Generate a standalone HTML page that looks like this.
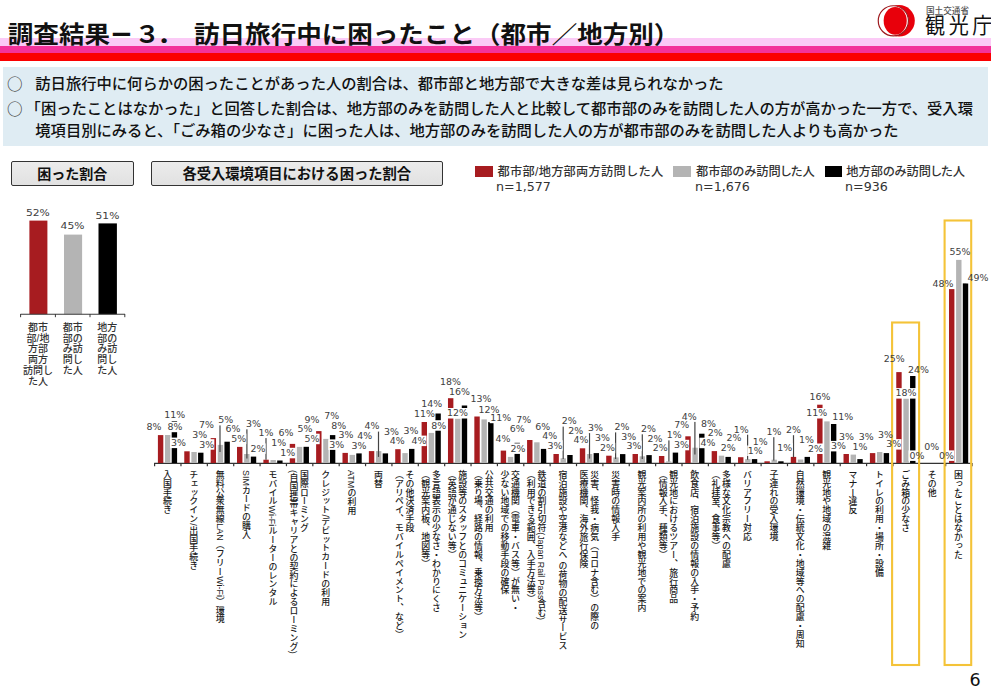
<!DOCTYPE html>
<html lang="ja"><head><meta charset="utf-8">
<style>
*{margin:0;padding:0;box-sizing:border-box}
html,body{width:991px;height:700px;overflow:hidden;background:#fff}
body{position:relative;font-family:"Liberation Sans", "Noto Sans CJK JP", sans-serif;color:#000}
.abs{position:absolute;white-space:nowrap}
.title{position:absolute;z-index:2;top:23.4px;transform:scaleY(0.935);transform-origin:0 0;font-size:25.55px;font-weight:bold;line-height:1;white-space:nowrap;color:#111}
.band1{position:absolute;left:0;top:38.2px;width:991px;height:7.8px;background:#fbcaf6}
.band2{position:absolute;left:0;top:46px;width:991px;height:6.8px;background:#f3329a}
.band3{position:absolute;left:0;top:52.8px;width:991px;height:7.9px;background:#fb0000}
.box{position:absolute;left:3.2px;top:67.1px;width:984.6px;height:78.7px;background:#dfecf3}
.bl{position:absolute;left:35.3px;font-size:15.3px;line-height:1;white-space:nowrap;color:#111;font-weight:500}
.circ{position:absolute;left:7.1px;font-size:15.6px;line-height:1;color:#3a3a3a;font-weight:500;font-family:"Noto Sans CJK JP",sans-serif}
.hdr{position:absolute;top:161.3px;height:24.3px;border:1.5px solid #333;border-radius:2px;background:linear-gradient(#ececec,#e1e1e1);font-size:14px;font-weight:bold;text-align:center;line-height:25px;color:#111}
.chart{position:absolute;left:0;top:0}
.chart text{font-family:"DejaVu Sans", "Liberation Sans", "Noto Sans CJK JP", sans-serif;font-size:8.2px;fill:#404040}
.cat{position:absolute;top:470px;writing-mode:vertical-rl;text-orientation:mixed;font-size:8.9px;line-height:10.6px;color:#1a1a1a;font-weight:500;transform:translateX(-50%);white-space:nowrap}
.mcat{position:absolute;top:323px;font-size:10px;line-height:10.7px;color:#333;font-weight:500;text-align:center;width:34px;transform:translateX(-50%)}
.lg{position:absolute;font-size:12.2px;line-height:1;color:#333;white-space:nowrap;font-weight:500}
.lgn{position:absolute;font-family:"DejaVu Sans", "Liberation Sans", "Noto Sans CJK JP", sans-serif;font-size:12.3px;transform:scaleX(1.03);transform-origin:0 0;line-height:1;color:#333;white-space:nowrap}
.sq{position:absolute;top:166.3px;width:17.3px;height:11px}
.ybox{position:absolute;border:2px solid #f3bf2a}
</style></head><body>
<div class="title" style="left:7.8px">調査結果</div>
<div class="title" style="left:111.7px;font-family:'Liberation Sans',sans-serif;font-size:34.9px;top:16.3px">–</div>
<div class="title" style="left:134.4px">３</div>
<div class="title" style="left:157px">．</div>
<div class="title" style="left:194px">訪日旅行中に困ったこと（都市／地方別）</div>

<svg class="abs" style="left:870px;top:0" width="50" height="42" viewBox="870 0 50 42">
 <circle cx="899.05" cy="20.85" r="15.75" fill="#e8000b"/>
 <circle cx="893.35" cy="20.85" r="15.2" fill="#fff"/>
 <circle cx="893.35" cy="20.85" r="15.1" fill="none" stroke="#9e1a1e" stroke-width="1.2"/>
 <ellipse cx="895.2" cy="20.85" rx="11.55" ry="13.95" fill="#e8000b"/>
</svg>
<div class="abs" style="left:926px;top:6.8px;font-size:8.6px;line-height:1;color:#555;font-weight:500">国土交通省</div>
<div class="abs" style="left:925.2px;top:15.4px;font-size:21.8px;line-height:1;letter-spacing:3.9px;color:#111;transform:scaleX(0.92);transform-origin:0 0">観光庁</div>

<div class="band1"></div><div class="band2"></div><div class="band3"></div>

<div class="box"></div>
<div class="circ" style="top:76px">○</div>
<div class="circ" style="top:100.6px">○</div>
<div class="bl" style="top:76px">訪日旅行中に何らかの困ったことがあった人の割合は、都市部と地方部で大きな差は見られなかった</div>
<div class="bl" style="top:100.5px;left:25.6px">「困ったことはなかった」と回答した割合は、地方部のみを訪問した人と比較して都市部のみを訪問した人の方が高かった一方で、受入環</div>
<div class="bl" style="top:122.5px">境項目別にみると、「ごみ箱の少なさ」に困った人は、地方部のみを訪問した人の方が都市部のみを訪問した人よりも高かった</div>

<div class="hdr" style="left:10.5px;width:123.5px">困った割合</div>
<div class="hdr" style="left:150.6px;width:292.4px;font-size:14.3px">各受入環境項目における困った割合</div>

<div class="sq" style="left:475.3px;background:#a71c20"></div>
<div class="sq" style="left:673.3px;background:#b4b4b4"></div>
<div class="sq" style="left:824.5px;background:#000"></div>
<div class="lg" style="left:497.5px;top:166px;letter-spacing:0.3px">都市部/地方部両方訪問した人</div>
<div class="lg" style="left:696px;top:166px;font-feature-settings:'palt'">都市部のみ訪問した人</div>
<div class="lg" style="left:846.3px;top:166px;font-feature-settings:'palt'">地方部のみ訪問した人</div>
<div class="lgn" style="left:496px;top:181px">n=1,577</div>
<div class="lgn" style="left:695px;top:181px">n=1,676</div>
<div class="lgn" style="left:845.3px;top:181px">n=936</div>

<svg class="abs" style="left:0;top:0" width="140" height="330" viewBox="0 0 140 330">
 <rect x="29.4" y="220.6" width="18" height="93.6" fill="#a71c20"/>
 <rect x="64" y="234.6" width="18.1" height="79.6" fill="#b4b4b4"/>
 <rect x="98.5" y="223.4" width="18.4" height="90.8" fill="#000"/>
 <line x1="20.5" y1="314.3" x2="125" y2="314.3" stroke="#3a3a3a" stroke-width="1.1"/>
 <line x1="20.6" y1="314" x2="20.6" y2="317.2" stroke="#3a3a3a" stroke-width="1"/>
 <line x1="55.4" y1="314" x2="55.4" y2="317.2" stroke="#3a3a3a" stroke-width="1"/>
 <line x1="90" y1="314" x2="90" y2="317.2" stroke="#3a3a3a" stroke-width="1"/>
 <line x1="124.8" y1="314" x2="124.8" y2="317.2" stroke="#3a3a3a" stroke-width="1"/>
 <g font-family='"DejaVu Sans", "Liberation Sans", "Noto Sans CJK JP", sans-serif' font-size="9.6" fill="#404040">
  <text transform="translate(25.9 215.8) scale(1.12 1)">52%</text>
  <text transform="translate(60.6 229.3) scale(1.12 1)">45%</text>
  <text transform="translate(95.5 218.9) scale(1.12 1)">51%</text>
 </g>
</svg>
<div class="mcat" style="left:38px">都市<br>部/地<br>方部<br>両方<br>訪問し<br>た人</div>
<div class="mcat" style="left:72.7px">都市<br>部の<br>み訪<br>問し<br>た人</div>
<div class="mcat" style="left:107.3px">地方<br>部の<br>み訪<br>問し<br>た人</div>

<svg class="chart" width="991" height="700" viewBox="0 0 991 700"><line x1="154.2" y1="463.4" x2="970.6" y2="463.4" stroke="#333" stroke-width="1.3"/><line x1="154.6" y1="463" x2="154.6" y2="466.2" stroke="#333" stroke-width="1.2"/><line x1="180.97" y1="463" x2="180.97" y2="466.2" stroke="#333" stroke-width="1.2"/><line x1="207.34" y1="463" x2="207.34" y2="466.2" stroke="#333" stroke-width="1.2"/><line x1="233.71" y1="463" x2="233.71" y2="466.2" stroke="#333" stroke-width="1.2"/><line x1="260.08" y1="463" x2="260.08" y2="466.2" stroke="#333" stroke-width="1.2"/><line x1="286.45" y1="463" x2="286.45" y2="466.2" stroke="#333" stroke-width="1.2"/><line x1="312.82" y1="463" x2="312.82" y2="466.2" stroke="#333" stroke-width="1.2"/><line x1="339.19" y1="463" x2="339.19" y2="466.2" stroke="#333" stroke-width="1.2"/><line x1="365.56" y1="463" x2="365.56" y2="466.2" stroke="#333" stroke-width="1.2"/><line x1="391.93" y1="463" x2="391.93" y2="466.2" stroke="#333" stroke-width="1.2"/><line x1="418.3" y1="463" x2="418.3" y2="466.2" stroke="#333" stroke-width="1.2"/><line x1="444.67" y1="463" x2="444.67" y2="466.2" stroke="#333" stroke-width="1.2"/><line x1="471.04" y1="463" x2="471.04" y2="466.2" stroke="#333" stroke-width="1.2"/><line x1="497.41" y1="463" x2="497.41" y2="466.2" stroke="#333" stroke-width="1.2"/><line x1="523.78" y1="463" x2="523.78" y2="466.2" stroke="#333" stroke-width="1.2"/><line x1="550.15" y1="463" x2="550.15" y2="466.2" stroke="#333" stroke-width="1.2"/><line x1="576.52" y1="463" x2="576.52" y2="466.2" stroke="#333" stroke-width="1.2"/><line x1="602.89" y1="463" x2="602.89" y2="466.2" stroke="#333" stroke-width="1.2"/><line x1="629.26" y1="463" x2="629.26" y2="466.2" stroke="#333" stroke-width="1.2"/><line x1="655.63" y1="463" x2="655.63" y2="466.2" stroke="#333" stroke-width="1.2"/><line x1="682" y1="463" x2="682" y2="466.2" stroke="#333" stroke-width="1.2"/><line x1="708.37" y1="463" x2="708.37" y2="466.2" stroke="#333" stroke-width="1.2"/><line x1="734.74" y1="463" x2="734.74" y2="466.2" stroke="#333" stroke-width="1.2"/><line x1="761.11" y1="463" x2="761.11" y2="466.2" stroke="#333" stroke-width="1.2"/><line x1="787.48" y1="463" x2="787.48" y2="466.2" stroke="#333" stroke-width="1.2"/><line x1="813.85" y1="463" x2="813.85" y2="466.2" stroke="#333" stroke-width="1.2"/><line x1="840.22" y1="463" x2="840.22" y2="466.2" stroke="#333" stroke-width="1.2"/><line x1="866.59" y1="463" x2="866.59" y2="466.2" stroke="#333" stroke-width="1.2"/><line x1="892.96" y1="463" x2="892.96" y2="466.2" stroke="#333" stroke-width="1.2"/><line x1="919.33" y1="463" x2="919.33" y2="466.2" stroke="#333" stroke-width="1.2"/><line x1="945.7" y1="463" x2="945.7" y2="466.2" stroke="#333" stroke-width="1.2"/><line x1="972.07" y1="463" x2="972.07" y2="466.2" stroke="#333" stroke-width="1.2"/><rect x="157.9" y="435.1" width="5.4" height="27.9" fill="#a71c20"/><rect x="165" y="435" width="5.4" height="28" fill="#b4b4b4"/><rect x="171.7" y="421.1" width="5.4" height="41.9" fill="#000000"/><rect x="184.27" y="451.3" width="5.4" height="11.7" fill="#a71c20"/><rect x="191.37" y="452" width="5.4" height="11" fill="#b4b4b4"/><rect x="198.07" y="452.7" width="5.4" height="10.3" fill="#000000"/><rect x="210.64" y="438.1" width="5.4" height="24.9" fill="#a71c20"/><rect x="217.74" y="444.9" width="5.4" height="18.1" fill="#b4b4b4"/><rect x="224.44" y="441.7" width="5.4" height="21.3" fill="#000000"/><rect x="237.01" y="446.9" width="5.4" height="16.1" fill="#a71c20"/><rect x="244.11" y="454" width="5.4" height="9" fill="#b4b4b4"/><rect x="250.81" y="456.6" width="5.4" height="6.4" fill="#000000"/><rect x="263.38" y="459.7" width="5.4" height="3.3" fill="#a71c20"/><rect x="270.48" y="460" width="5.4" height="3" fill="#b4b4b4"/><rect x="277.18" y="460.5" width="5.4" height="2.5" fill="#000000"/><rect x="289.75" y="443.9" width="5.4" height="19.1" fill="#a71c20"/><rect x="296.85" y="446.9" width="5.4" height="16.1" fill="#b4b4b4"/><rect x="303.55" y="446.8" width="5.4" height="16.2" fill="#000000"/><rect x="316.12" y="431.1" width="5.4" height="31.9" fill="#a71c20"/><rect x="323.22" y="438.9" width="5.4" height="24.1" fill="#b4b4b4"/><rect x="329.92" y="435.1" width="5.4" height="27.9" fill="#000000"/><rect x="342.49" y="452.9" width="5.4" height="10.1" fill="#a71c20"/><rect x="349.59" y="454.9" width="5.4" height="8.1" fill="#b4b4b4"/><rect x="356.29" y="453.4" width="5.4" height="9.6" fill="#000000"/><rect x="368.86" y="451.1" width="5.4" height="11.9" fill="#a71c20"/><rect x="375.96" y="451.1" width="5.4" height="11.9" fill="#b4b4b4"/><rect x="382.66" y="453.4" width="5.4" height="9.6" fill="#000000"/><rect x="395.23" y="449.2" width="5.4" height="13.8" fill="#a71c20"/><rect x="402.33" y="453.1" width="5.4" height="9.9" fill="#b4b4b4"/><rect x="409.03" y="448.9" width="5.4" height="14.1" fill="#000000"/><rect x="421.6" y="422" width="5.4" height="41" fill="#a71c20"/><rect x="428.7" y="432.9" width="5.4" height="30.1" fill="#b4b4b4"/><rect x="435.4" y="413.5" width="5.4" height="49.5" fill="#000000"/><rect x="447.97" y="398.2" width="5.4" height="64.8" fill="#a71c20"/><rect x="455.07" y="418.6" width="5.4" height="44.4" fill="#b4b4b4"/><rect x="461.77" y="405.5" width="5.4" height="57.5" fill="#000000"/><rect x="474.34" y="416.5" width="5.4" height="46.5" fill="#a71c20"/><rect x="481.44" y="419.4" width="5.4" height="43.6" fill="#b4b4b4"/><rect x="488.14" y="422.1" width="5.4" height="40.9" fill="#000000"/><rect x="500.71" y="450.6" width="5.4" height="12.4" fill="#a71c20"/><rect x="507.81" y="456.9" width="5.4" height="6.1" fill="#b4b4b4"/><rect x="514.51" y="442.8" width="5.4" height="20.2" fill="#000000"/><rect x="527.08" y="440" width="5.4" height="23" fill="#a71c20"/><rect x="534.18" y="442.3" width="5.4" height="20.7" fill="#b4b4b4"/><rect x="540.88" y="448.9" width="5.4" height="14.1" fill="#000000"/><rect x="553.45" y="454" width="5.4" height="9" fill="#a71c20"/><rect x="560.55" y="458.3" width="5.4" height="4.7" fill="#b4b4b4"/><rect x="567.25" y="455" width="5.4" height="8" fill="#000000"/><rect x="579.82" y="448.3" width="5.4" height="14.7" fill="#a71c20"/><rect x="586.92" y="454" width="5.4" height="9" fill="#b4b4b4"/><rect x="593.62" y="453.1" width="5.4" height="9.9" fill="#000000"/><rect x="606.19" y="455.7" width="5.4" height="7.3" fill="#a71c20"/><rect x="613.29" y="457.4" width="5.4" height="5.6" fill="#b4b4b4"/><rect x="619.99" y="454.1" width="5.4" height="8.9" fill="#000000"/><rect x="632.56" y="454" width="5.4" height="9" fill="#a71c20"/><rect x="639.66" y="456.3" width="5.4" height="6.7" fill="#b4b4b4"/><rect x="646.36" y="455.1" width="5.4" height="7.9" fill="#000000"/><rect x="658.93" y="456" width="5.4" height="7" fill="#a71c20"/><rect x="666.03" y="461.4" width="5.4" height="1.6" fill="#b4b4b4"/><rect x="672.73" y="452.6" width="5.4" height="10.4" fill="#000000"/><rect x="685.3" y="436.3" width="5.4" height="26.7" fill="#a71c20"/><rect x="692.4" y="447.7" width="5.4" height="15.3" fill="#b4b4b4"/><rect x="699.1" y="433.7" width="5.4" height="29.3" fill="#000000"/><rect x="711.67" y="451.1" width="5.4" height="11.9" fill="#a71c20"/><rect x="718.77" y="455.7" width="5.4" height="7.3" fill="#b4b4b4"/><rect x="725.47" y="456.9" width="5.4" height="6.1" fill="#000000"/><rect x="738.04" y="457.2" width="5.4" height="5.8" fill="#a71c20"/><rect x="745.14" y="459.1" width="5.4" height="3.9" fill="#b4b4b4"/><rect x="751.84" y="459.1" width="5.4" height="3.9" fill="#000000"/><rect x="764.41" y="461.3" width="5.4" height="1.7" fill="#a71c20"/><rect x="771.51" y="459.7" width="5.4" height="3.3" fill="#b4b4b4"/><rect x="778.21" y="461.3" width="5.4" height="1.7" fill="#000000"/><rect x="790.78" y="456.9" width="5.4" height="6.1" fill="#a71c20"/><rect x="797.88" y="459.5" width="5.4" height="3.5" fill="#b4b4b4"/><rect x="804.58" y="456.9" width="5.4" height="6.1" fill="#000000"/><rect x="817.15" y="404.7" width="5.4" height="58.3" fill="#a71c20"/><rect x="824.25" y="421.4" width="5.4" height="41.6" fill="#b4b4b4"/><rect x="830.95" y="424" width="5.4" height="39" fill="#000000"/><rect x="843.52" y="454" width="5.4" height="9" fill="#a71c20"/><rect x="850.62" y="454.6" width="5.4" height="8.4" fill="#b4b4b4"/><rect x="857.32" y="459.1" width="5.4" height="3.9" fill="#000000"/><rect x="869.89" y="453.1" width="5.4" height="9.9" fill="#a71c20"/><rect x="876.99" y="452" width="5.4" height="11" fill="#b4b4b4"/><rect x="883.69" y="453.1" width="5.4" height="9.9" fill="#000000"/><rect x="896.26" y="372.1" width="5.4" height="90.9" fill="#a71c20"/><rect x="903.36" y="398.4" width="5.4" height="64.6" fill="#b4b4b4"/><rect x="910.06" y="376" width="5.4" height="87" fill="#000000"/><rect x="949" y="289.1" width="5.4" height="173.9" fill="#a71c20"/><rect x="956.1" y="259.9" width="5.4" height="203.1" fill="#b4b4b4"/><rect x="962.8" y="283.4" width="5.4" height="179.6" fill="#000000"/><line x1="220" y1="424" x2="220" y2="452" stroke="#444" stroke-width="1.2"/><line x1="246.9" y1="428.3" x2="246.9" y2="458.6" stroke="#444" stroke-width="1.2"/><line x1="266" y1="438" x2="266" y2="459.7" stroke="#444" stroke-width="1.2"/><line x1="378.5" y1="430.6" x2="378.5" y2="456.9" stroke="#444" stroke-width="1.2"/><line x1="563.2" y1="426.3" x2="563.2" y2="459.1" stroke="#444" stroke-width="1.2"/><line x1="589.5" y1="432.9" x2="589.5" y2="458.6" stroke="#444" stroke-width="1.2"/><line x1="615.6" y1="431.7" x2="615.6" y2="459.1" stroke="#444" stroke-width="1.2"/><line x1="642.3" y1="433.4" x2="642.3" y2="459.1" stroke="#444" stroke-width="1.2"/><line x1="668.9" y1="440.3" x2="668.9" y2="461.4" stroke="#444" stroke-width="1.2"/><line x1="694.9" y1="420.9" x2="694.9" y2="454.6" stroke="#444" stroke-width="1.2"/><line x1="747.6" y1="433.2" x2="747.6" y2="459.7" stroke="#444" stroke-width="1.2"/><line x1="773.8" y1="436.6" x2="773.8" y2="460.4" stroke="#444" stroke-width="1.2"/><line x1="793.5" y1="434.7" x2="793.5" y2="457.2" stroke="#444" stroke-width="1.2"/><rect x="145.4" y="421.7" width="16.16" height="10.5" fill="#fff"/><rect x="163.6" y="409.4" width="21.68" height="10.5" fill="#fff"/><rect x="166.4" y="421.7" width="16.16" height="10.5" fill="#fff"/><rect x="170.1" y="437.6" width="16.16" height="10.5" fill="#fff"/><rect x="191.2" y="429.7" width="16.16" height="10.5" fill="#fff"/><rect x="197.9" y="419.7" width="16.16" height="10.5" fill="#fff"/><rect x="198.2" y="439.2" width="16.16" height="10.5" fill="#fff"/><rect x="217.2" y="414.9" width="16.16" height="10.5" fill="#fff"/><rect x="224.4" y="423.9" width="16.16" height="10.5" fill="#fff"/><rect x="230.2" y="433.6" width="16.16" height="10.5" fill="#fff"/><rect x="245" y="418.8" width="16.16" height="10.5" fill="#fff"/><rect x="249.5" y="443.4" width="16.16" height="10.5" fill="#fff"/><rect x="257.9" y="427.6" width="16.16" height="10.5" fill="#fff"/><rect x="270.7" y="437.5" width="16.16" height="10.5" fill="#fff"/><rect x="277.5" y="427.6" width="16.16" height="10.5" fill="#fff"/><rect x="279.6" y="447.8" width="16.16" height="10.5" fill="#fff"/><rect x="303.5" y="414.8" width="16.16" height="10.5" fill="#fff"/><rect x="296.6" y="423.7" width="16.16" height="10.5" fill="#fff"/><rect x="303.5" y="433.7" width="16.16" height="10.5" fill="#fff"/><rect x="323.3" y="410.8" width="16.16" height="10.5" fill="#fff"/><rect x="330.2" y="420.6" width="16.16" height="10.5" fill="#fff"/><rect x="328.3" y="439.4" width="16.16" height="10.5" fill="#fff"/><rect x="337.4" y="429.5" width="16.16" height="10.5" fill="#fff"/><rect x="350.5" y="440.9" width="16.16" height="10.5" fill="#fff"/><rect x="356.3" y="430.6" width="16.16" height="10.5" fill="#fff"/><rect x="363.5" y="421.1" width="16.16" height="10.5" fill="#fff"/><rect x="383" y="426.5" width="16.16" height="10.5" fill="#fff"/><rect x="388.7" y="435.6" width="16.16" height="10.5" fill="#fff"/><rect x="402.4" y="426" width="16.16" height="10.5" fill="#fff"/><rect x="420.7" y="399.1" width="21.68" height="10.5" fill="#fff"/><rect x="413.5" y="408.9" width="21.68" height="10.5" fill="#fff"/><rect x="410.4" y="435.6" width="16.16" height="10.5" fill="#fff"/><rect x="430.2" y="420.2" width="16.16" height="10.5" fill="#fff"/><rect x="439.4" y="376.4" width="21.68" height="10.5" fill="#fff"/><rect x="448.4" y="386.3" width="21.68" height="10.5" fill="#fff"/><rect x="446.3" y="408" width="21.68" height="10.5" fill="#fff"/><rect x="469.8" y="393.4" width="21.68" height="10.5" fill="#fff"/><rect x="478" y="404.6" width="21.68" height="10.5" fill="#fff"/><rect x="489.7" y="412.7" width="21.68" height="10.5" fill="#fff"/><rect x="494.4" y="433.7" width="16.16" height="10.5" fill="#fff"/><rect x="508.7" y="424" width="16.16" height="10.5" fill="#fff"/><rect x="509.5" y="443.4" width="16.16" height="10.5" fill="#fff"/><rect x="515.3" y="414.8" width="16.16" height="10.5" fill="#fff"/><rect x="534.3" y="421.9" width="16.16" height="10.5" fill="#fff"/><rect x="541.2" y="430.6" width="16.16" height="10.5" fill="#fff"/><rect x="546.5" y="440.2" width="16.16" height="10.5" fill="#fff"/><rect x="560.8" y="416" width="16.16" height="10.5" fill="#fff"/><rect x="567.3" y="425.7" width="16.16" height="10.5" fill="#fff"/><rect x="572.6" y="434.5" width="16.16" height="10.5" fill="#fff"/><rect x="587.1" y="422.6" width="16.16" height="10.5" fill="#fff"/><rect x="594" y="432.2" width="16.16" height="10.5" fill="#fff"/><rect x="599.1" y="442.8" width="16.16" height="10.5" fill="#fff"/><rect x="613.4" y="421.9" width="16.16" height="10.5" fill="#fff"/><rect x="620.2" y="431.9" width="16.16" height="10.5" fill="#fff"/><rect x="625.5" y="440.6" width="16.16" height="10.5" fill="#fff"/><rect x="639.9" y="423.8" width="16.16" height="10.5" fill="#fff"/><rect x="646.4" y="433.4" width="16.16" height="10.5" fill="#fff"/><rect x="651.8" y="442.8" width="16.16" height="10.5" fill="#fff"/><rect x="666.2" y="429.7" width="16.16" height="10.5" fill="#fff"/><rect x="680.7" y="411.4" width="16.16" height="10.5" fill="#fff"/><rect x="673.3" y="420" width="16.16" height="10.5" fill="#fff"/><rect x="673" y="439.8" width="16.16" height="10.5" fill="#fff"/><rect x="700" y="418.8" width="16.16" height="10.5" fill="#fff"/><rect x="699.4" y="437.7" width="16.16" height="10.5" fill="#fff"/><rect x="706.8" y="427.4" width="16.16" height="10.5" fill="#fff"/><rect x="719.7" y="442.5" width="16.16" height="10.5" fill="#fff"/><rect x="725.5" y="432.6" width="16.16" height="10.5" fill="#fff"/><rect x="733.1" y="424.2" width="16.16" height="10.5" fill="#fff"/><rect x="747.2" y="445.5" width="16.16" height="10.5" fill="#fff"/><rect x="752.1" y="436.5" width="16.16" height="10.5" fill="#fff"/><rect x="765.8" y="426.7" width="16.16" height="10.5" fill="#fff"/><rect x="776.7" y="443.1" width="16.16" height="10.5" fill="#fff"/><rect x="785.1" y="424.7" width="16.16" height="10.5" fill="#fff"/><rect x="798.3" y="434.7" width="16.16" height="10.5" fill="#fff"/><rect x="808.9" y="391.2" width="21.68" height="10.5" fill="#fff"/><rect x="805.6" y="408" width="21.68" height="10.5" fill="#fff"/><rect x="806.9" y="443.5" width="16.16" height="10.5" fill="#fff"/><rect x="831.7" y="411.3" width="21.68" height="10.5" fill="#fff"/><rect x="830.1" y="440.9" width="16.16" height="10.5" fill="#fff"/><rect x="838.1" y="431.9" width="16.16" height="10.5" fill="#fff"/><rect x="857.8" y="431.9" width="16.16" height="10.5" fill="#fff"/><rect x="852" y="441.8" width="16.16" height="10.5" fill="#fff"/><rect x="877.1" y="429.8" width="16.16" height="10.5" fill="#fff"/><rect x="885.3" y="439.1" width="16.16" height="10.5" fill="#fff"/><rect x="882.8" y="353.7" width="21.68" height="10.5" fill="#fff"/><rect x="907.1" y="364.2" width="21.68" height="10.5" fill="#fff"/><rect x="894.9" y="388.1" width="21.68" height="10.5" fill="#fff"/><rect x="908.5" y="450.4" width="16.16" height="10.5" fill="#fff"/><rect x="923.3" y="441.7" width="16.16" height="10.5" fill="#fff"/><rect x="938.1" y="450.4" width="16.16" height="10.5" fill="#fff"/><rect x="931.6" y="278.3" width="21.68" height="10.5" fill="#fff"/><rect x="948.4" y="247" width="21.68" height="10.5" fill="#fff"/><rect x="966.4" y="272.7" width="21.68" height="10.5" fill="#fff"/><rect x="892.1" y="322.5" width="27" height="342.5" fill="none" stroke="#f4c338" stroke-width="2.1"/><rect x="944.6" y="220.5" width="26.6" height="444.5" fill="none" stroke="#f4c338" stroke-width="2.1"/><text transform="translate(146.4 430) scale(1.15 1)">8%</text><text transform="translate(164.2 417.7) scale(1.15 1)">11%</text><text transform="translate(167.4 430) scale(1.15 1)">8%</text><text transform="translate(171.1 445.9) scale(1.15 1)">3%</text><text transform="translate(192.2 438) scale(1.15 1)">3%</text><text transform="translate(198.9 428) scale(1.15 1)">7%</text><text transform="translate(199.2 447.5) scale(1.15 1)">3%</text><text transform="translate(218.2 423.2) scale(1.15 1)">5%</text><text transform="translate(225.4 432.2) scale(1.15 1)">6%</text><text transform="translate(231.2 441.9) scale(1.15 1)">5%</text><text transform="translate(246 427.1) scale(1.15 1)">3%</text><text transform="translate(250.5 451.7) scale(1.15 1)">2%</text><text transform="translate(258.5 435.9) scale(1.15 1)">1%</text><text transform="translate(271.3 445.8) scale(1.15 1)">1%</text><text transform="translate(278.5 435.9) scale(1.15 1)">6%</text><text transform="translate(280.2 456.1) scale(1.15 1)">1%</text><text transform="translate(304.5 423.1) scale(1.15 1)">9%</text><text transform="translate(297.6 432) scale(1.15 1)">5%</text><text transform="translate(304.5 442) scale(1.15 1)">5%</text><text transform="translate(324.3 419.1) scale(1.15 1)">7%</text><text transform="translate(331.2 428.9) scale(1.15 1)">8%</text><text transform="translate(329.3 447.7) scale(1.15 1)">3%</text><text transform="translate(338.4 437.8) scale(1.15 1)">3%</text><text transform="translate(351.5 449.2) scale(1.15 1)">3%</text><text transform="translate(357.3 438.9) scale(1.15 1)">4%</text><text transform="translate(364.5 429.4) scale(1.15 1)">4%</text><text transform="translate(384 434.8) scale(1.15 1)">3%</text><text transform="translate(389.7 443.9) scale(1.15 1)">4%</text><text transform="translate(403.4 434.3) scale(1.15 1)">3%</text><text transform="translate(421.3 407.4) scale(1.15 1)">14%</text><text transform="translate(414.1 417.2) scale(1.15 1)">11%</text><text transform="translate(411.4 443.9) scale(1.15 1)">4%</text><text transform="translate(431.2 428.5) scale(1.15 1)">8%</text><text transform="translate(440 384.7) scale(1.15 1)">18%</text><text transform="translate(449 394.6) scale(1.15 1)">16%</text><text transform="translate(446.9 416.3) scale(1.15 1)">12%</text><text transform="translate(470.4 401.7) scale(1.15 1)">13%</text><text transform="translate(478.6 412.9) scale(1.15 1)">12%</text><text transform="translate(490.3 421) scale(1.15 1)">11%</text><text transform="translate(495.4 442) scale(1.15 1)">4%</text><text transform="translate(509.7 432.3) scale(1.15 1)">6%</text><text transform="translate(510.5 451.7) scale(1.15 1)">2%</text><text transform="translate(516.3 423.1) scale(1.15 1)">7%</text><text transform="translate(535.3 430.2) scale(1.15 1)">6%</text><text transform="translate(542.2 438.9) scale(1.15 1)">4%</text><text transform="translate(547.5 448.5) scale(1.15 1)">3%</text><text transform="translate(561.8 424.3) scale(1.15 1)">2%</text><text transform="translate(568.3 434) scale(1.15 1)">2%</text><text transform="translate(573.6 442.8) scale(1.15 1)">4%</text><text transform="translate(588.1 430.9) scale(1.15 1)">3%</text><text transform="translate(595 440.5) scale(1.15 1)">3%</text><text transform="translate(600.1 451.1) scale(1.15 1)">2%</text><text transform="translate(614.4 430.2) scale(1.15 1)">2%</text><text transform="translate(621.2 440.2) scale(1.15 1)">3%</text><text transform="translate(626.5 448.9) scale(1.15 1)">3%</text><text transform="translate(640.9 432.1) scale(1.15 1)">2%</text><text transform="translate(647.4 441.7) scale(1.15 1)">2%</text><text transform="translate(652.8 451.1) scale(1.15 1)">2%</text><text transform="translate(666.8 438) scale(1.15 1)">1%</text><text transform="translate(681.7 419.7) scale(1.15 1)">4%</text><text transform="translate(674.3 428.3) scale(1.15 1)">7%</text><text transform="translate(674 448.1) scale(1.15 1)">3%</text><text transform="translate(701 427.1) scale(1.15 1)">8%</text><text transform="translate(700.4 446) scale(1.15 1)">4%</text><text transform="translate(707.8 435.7) scale(1.15 1)">2%</text><text transform="translate(720.7 450.8) scale(1.15 1)">2%</text><text transform="translate(726.5 440.9) scale(1.15 1)">2%</text><text transform="translate(733.7 432.5) scale(1.15 1)">1%</text><text transform="translate(747.8 453.8) scale(1.15 1)">1%</text><text transform="translate(752.7 444.8) scale(1.15 1)">1%</text><text transform="translate(766.4 435) scale(1.15 1)">1%</text><text transform="translate(777.3 451.4) scale(1.15 1)">1%</text><text transform="translate(786.1 433) scale(1.15 1)">2%</text><text transform="translate(798.9 443) scale(1.15 1)">1%</text><text transform="translate(809.5 399.5) scale(1.15 1)">16%</text><text transform="translate(806.2 416.3) scale(1.15 1)">11%</text><text transform="translate(807.9 451.8) scale(1.15 1)">2%</text><text transform="translate(832.3 419.6) scale(1.15 1)">11%</text><text transform="translate(831.1 449.2) scale(1.15 1)">3%</text><text transform="translate(839.1 440.2) scale(1.15 1)">3%</text><text transform="translate(858.8 440.2) scale(1.15 1)">3%</text><text transform="translate(852.6 450.1) scale(1.15 1)">1%</text><text transform="translate(878.1 438.1) scale(1.15 1)">3%</text><text transform="translate(886.3 447.4) scale(1.15 1)">3%</text><text transform="translate(883.8 362) scale(1.15 1)">25%</text><text transform="translate(908.1 372.5) scale(1.15 1)">24%</text><text transform="translate(895.5 396.4) scale(1.15 1)">18%</text><text transform="translate(909.5 458.7) scale(1.15 1)">0%</text><text transform="translate(924.3 450) scale(1.15 1)">0%</text><text transform="translate(939.1 458.7) scale(1.15 1)">0%</text><text transform="translate(932.6 286.6) scale(1.15 1)">48%</text><text transform="translate(949.4 255.3) scale(1.15 1)">55%</text><text transform="translate(967.4 281) scale(1.15 1)">49%</text></svg>
<div class="cat" style="left:166.6px">入国手続き</div>
<div class="cat" style="left:192.97px">チェックイン/出国手続き</div>
<div class="cat" style="left:219.34px">無料公衆無線LAN（フリーWi-Fi）環境</div>
<div class="cat" style="left:245.71px">SIMカードの購入</div>
<div class="cat" style="left:272.08px">モバイルWi-Fiルーターのレンタル</div>
<div class="cat" style="left:298.45px">国際ローミング<br>(自国携帯キャリアとの契約によるローミング)</div>
<div class="cat" style="left:324.82px">クレジット/デビットカードの利用</div>
<div class="cat" style="left:351.19px">ATMの利用</div>
<div class="cat" style="left:377.56px">両替</div>
<div class="cat" style="left:403.93px">その他決済手段<br>（アリペイ、モバイルペイメント、など）</div>
<div class="cat" style="left:430.3px">多言語表示の少なさ・わかりにくさ<br>（観光案内板、地図等）</div>
<div class="cat" style="left:456.67px">施設等のスタッフとのコミュニケーション<br>（英語が通じない等）</div>
<div class="cat" style="left:483.04px">公共交通の利用<br>（乗り場、経路の情報、乗換方法等）</div>
<div class="cat" style="left:509.41px">交通機関（電車・バス等）が無い・<br>少ない地域での移動手段の確保</div>
<div class="cat" style="left:535.78px">鉄道の割引切符(Japan Rail Pass含む)<br>（利用できる範囲、入手方法等）</div>
<div class="cat" style="left:562.15px">宿泊施設や空港などへ の荷物の配送サービス</div>
<div class="cat" style="left:588.52px">災害、怪我・病気（コロナ含む）の際の<br>医療機関、海外旅行保険</div>
<div class="cat" style="left:614.89px">災害時の情報入手</div>
<div class="cat" style="left:641.26px">観光案内所の利用や観光地での案内</div>
<div class="cat" style="left:667.63px">観光地におけるツアー、旅行商品<br>（情報入手、種類等）</div>
<div class="cat" style="left:694px">飲食店、宿泊施設の情報の入手・予約</div>
<div class="cat" style="left:720.37px">多様な文化宗教への配慮<br>（礼拝室、食事等）</div>
<div class="cat" style="left:746.74px">バリアフリー対応</div>
<div class="cat" style="left:773.11px">子連れの受入環境</div>
<div class="cat" style="left:799.48px">自然環境・伝統文化・地域等への配慮・周知</div>
<div class="cat" style="left:825.85px">観光地や地域の混雑</div>
<div class="cat" style="left:852.22px">マナー違反</div>
<div class="cat" style="left:878.59px">トイレの利用・場所・設備</div>
<div class="cat" style="left:904.96px">ごみ箱の少なさ</div>
<div class="cat" style="left:931.33px">その他</div>
<div class="cat" style="left:957.7px">困ったことはなかった</div>
<div class="abs" style="left:969.6px;top:671.5px;font-family:'DejaVu Sans',sans-serif;font-size:17.6px;line-height:1;color:#111">6</div>
</body></html>
